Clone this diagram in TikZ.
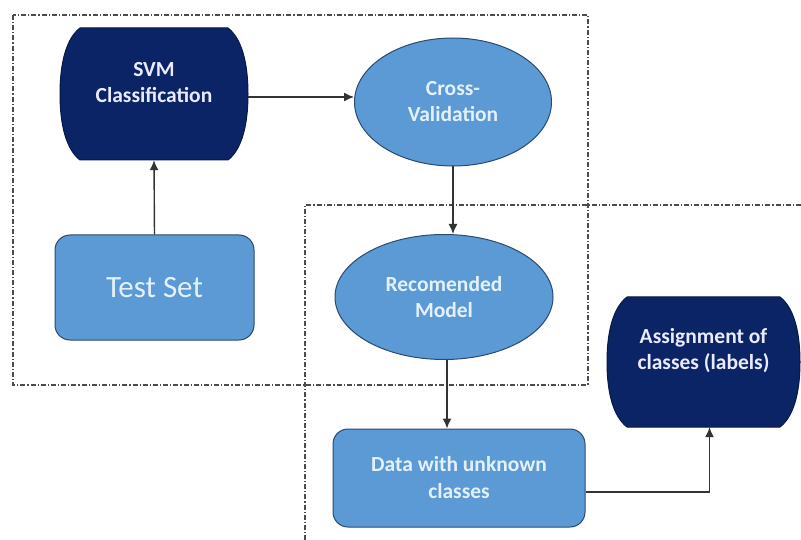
\documentclass[tikz,border=0pt]{standalone}
\usepackage{fontspec}
\setmainfont{Carlito}
\usetikzlibrary{shapes.geometric,arrows.meta}
\definecolor{navy}{HTML}{0B2465}
\definecolor{lblue}{HTML}{5B9AD5}
\definecolor{edge}{HTML}{2B4A6E}
\definecolor{ltext}{HTML}{E4F1FC}
% bulge-sided box: centre x, centre y, width, height
\newcommand\bulgebox[4]{%
  \draw[fill=navy, draw=navy!70!black, line width=1pt, line join=round]
    ({#1-#3/2+20},{#2-#4/2}) -- ({#1+#3/2-20},{#2-#4/2})
    .. controls ({#1+#3/2-7},{#2-#4/2+10}) and ({#1+#3/2},{#2-#4/4}) .. ({#1+#3/2},{#2})
    .. controls ({#1+#3/2},{#2+#4/4}) and ({#1+#3/2-7},{#2+#4/2-10}) .. ({#1+#3/2-20},{#2+#4/2})
    -- ({#1-#3/2+20},{#2+#4/2})
    .. controls ({#1-#3/2+7},{#2+#4/2-10}) and ({#1-#3/2},{#2+#4/4}) .. ({#1-#3/2},{#2})
    .. controls ({#1-#3/2},{#2-#4/4}) and ({#1-#3/2+7},{#2-#4/2+10}) .. cycle;}
\begin{document}
\begin{tikzpicture}[x=1pt,y=-1pt,
  frame/.style={draw=black!70, line width=1.1pt, dash pattern=on 5pt off 2pt on 1.2pt off 2pt},
  darkbox/.style={rectangle, inner sep=0pt},
  lightell/.style={ellipse, fill=lblue, draw=edge, line width=1pt, inner sep=0pt, text=ltext, font=\fontsize{21.5}{26}\selectfont\bfseries, align=center},
  lightbox/.style={rectangle, rounded corners=15pt, fill=lblue, draw=edge, line width=1pt, inner sep=0pt, text=ltext},
  darktext/.style={text=white!92!blue, font=\fontsize{21.5}{26}\selectfont\bfseries, align=center},
  arr/.style={draw=black!80, line width=1.4pt, -{Latex[length=10pt,width=9pt]}}
]
\useasboundingbox (0,0) rectangle (801,540);
\fill[white] (0,0) rectangle (801,540);
% frames
\draw[frame] (13,15) rectangle (588,385);
\draw[frame] (801,205) -- (305,205) -- (305,540);
% nodes
\bulgebox{154}{94}{188}{132}
\node[darkbox, minimum width=188pt, minimum height=132pt] (svm) at (154,94) {};
\node[darktext] (svmt) at (154,83) {SVM\\Classification};
\node[lightell, minimum width=197pt, minimum height=128pt] (cv) at (453,102) {Cross-\\Validation};
\node[lightbox, minimum width=199pt, minimum height=105pt, font=\fontsize{31}{34}\selectfont] (ts) at (154.5,287.5) {Test Set};
\node[lightell, minimum width=218pt, minimum height=125pt] (rm) at (444,297) {Recomended\\Model};
\bulgebox{703.5}{362}{193}{130}
\node[darkbox, minimum width=193pt, minimum height=130pt] (asg) at (703.5,362) {};
\node[darktext] (asgt) at (703.5,351) {Assignment of\\classes (labels)};
\node[lightbox, minimum width=252pt, minimum height=98pt, font=\fontsize{21.5}{27}\selectfont\bfseries, align=center] (data) at (459,478) {Data with unknown\\classes};
% connectors
\draw[arr] ([yshift=-3pt]svm.east) -- ([yshift=-3pt]svm.east -| cv.west);
\draw[arr] (ts.north) -- (svm.south);
\draw[arr] (cv.south) -- (cv.south |- rm.north);
\draw[arr] ([xshift=3pt]rm.south) -- ([xshift=3pt]rm.south |- data.north);
\draw[arr] ([yshift=-14pt]data.east) -| ([xshift=6pt]asg.south);
\end{tikzpicture}
\end{document}
